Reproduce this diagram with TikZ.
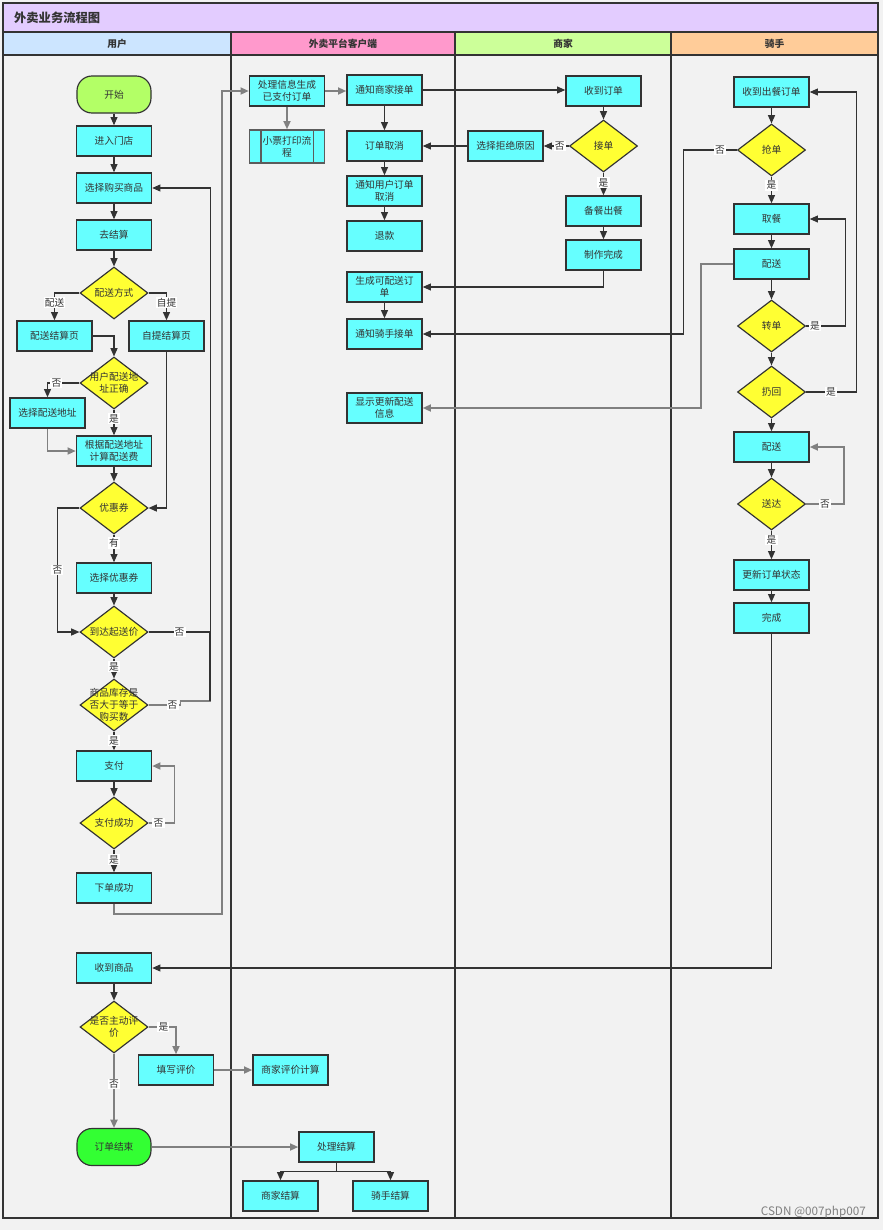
\documentclass[tikz,border=0pt]{standalone}
\usepackage{fontspec}
\setmainfont{Noto Sans CJK SC}
\usepackage{tikz}
\usetikzlibrary{shapes.geometric,arrows.meta}
\definecolor{pagegray}{HTML}{F2F2F2}
\definecolor{linedark}{HTML}{333333}
\definecolor{linegray}{HTML}{808080}
\definecolor{titlepurple}{HTML}{E3CCFF}
\definecolor{userblue}{HTML}{CCE5FF}
\definecolor{platpink}{HTML}{FF99CC}
\definecolor{shopgreen}{HTML}{CCFF99}
\definecolor{rideorange}{HTML}{FFCC99}
\definecolor{proccyan}{HTML}{66FFFF}
\definecolor{decyellow}{HTML}{FFFF33}
\definecolor{startgreen}{HTML}{B3FF66}
\definecolor{endgreen}{HTML}{33FF33}
\newcommand{\zhsize}{\fontsize{8.3}{10}\selectfont}

\tikzset{
  proc/.style={draw=linedark, line width=1.3pt, fill=proccyan, minimum width=2.25cm,
    minimum height=0.9cm, inner sep=1pt, align=center, text=linedark, font=\zhsize},
  term/.style={proc, rounded corners=0.45cm, minimum width=2.22cm, minimum height=1.11cm, line width=1pt},
  dec/.style={diamond, draw=linedark, line width=1pt, fill=decyellow, minimum width=2.04cm,
    minimum height=1.56cm, inner sep=-8pt, align=center, text=linedark, font=\zhsize},
  flow/.style={draw=linedark, line width=0.9pt, -{Triangle[length=7pt,width=6pt]}},
  flowg/.style={flow, draw=linegray, line width=1.4pt},
  lbl/.style={fill=white, inner sep=1pt, text=linedark, font=\zhsize},
  lane/.style={font=\zhsize\bfseries, text=linedark},
}

\begin{document}
\begin{tikzpicture}[x=0.03cm,y=-0.03cm]
    \useasboundingbox[fill=pagegray] (0,0) rectangle (883,1230);

    % Frame and lanes
    \fill[titlepurple] (3,3) rectangle (878,32);
    \fill[userblue] (3,32) rectangle (231,55);
    \fill[platpink] (231,32) rectangle (455,55);
    \fill[shopgreen] (455,32) rectangle (671,55);
    \fill[rideorange] (671,32) rectangle (878,55);
    \draw[linedark,line width=1.4pt] (3,32) -- (878,32);
    \draw[linedark,line width=0.9pt] (3,55) -- (878,55);
    \draw[linedark,line width=1.7pt] (231,32) -- (231,1218);
    \draw[linedark,line width=0.9pt] (455,32) -- (455,1218);
    \draw[linedark,line width=0.9pt] (671,32) -- (671,1218);
    \draw[linedark,line width=1.7pt] (3,3) rectangle (878,1218);

    \node[lane, anchor=west, font=\fontsize{10.5}{12}\selectfont\bfseries] (title) at (10,18) {外卖业务流程图};
    \node[lane] (hduser) at (117,44) {用户};
    \node[lane] (hdplat) at (343,44) {外卖平台客户端};
    \node[lane] (hdshop) at (563,44) {商家};
    \node[lane] (hdride) at (774.5,44) {骑手};

    % User
    \node[term, fill=startgreen] (start) at (114,94.5) {开始};
    \node[proc] (enter) at (114,141) {进入门店};
    \node[proc] (pick) at (114,188) {选择购买商品};
    \node[proc] (checkout) at (114,235) {去结算};
    \node[dec] (dmode) at (114,293) {配送方式};
    \node[proc] (dpage) at (54.5,336) {配送结算页};
    \node[proc] (spage) at (166.5,336) {自提结算页};
    \node[dec] (daddr) at (114,383) {用户配送地\\址正确};
    \node[proc] (seladdr) at (47.5,413) {选择配送地址};
    \node[proc] (fee) at (114,451) {根据配送地址\\计算配送费};
    \node[dec] (dcoupon) at (114,508) {优惠券};
    \node[proc] (selcoupon) at (114,578) {选择优惠券};
    \node[dec] (dmin) at (114,632) {到达起送价};
    \node[dec] (dstock) at (114,705) {商品库存是\\否大于等于\\购买数};
    \node[proc] (pay) at (114,766) {支付};
    \node[dec] (dpaid) at (114,823) {支付成功};
    \node[proc] (placed) at (114,888) {下单成功};
    \node[proc] (recv) at (114,968) {收到商品};
    \node[dec] (drate) at (114,1027) {是否主动评\\价};
    \node[proc] (rate) at (176,1070) {填写评价};
    \node[term, fill=endgreen] (finish) at (114,1147) {订单结束};

    % Platform
    \node[proc] (gen) at (287,91) {处理信息生成\\已支付订单};
    \node[proc, minimum height=0.99cm, draw=linedark!80] (ticket) at (287,146.5) {小票打印流\\程};
    \draw[linedark!80,line width=1.3pt] ([xshift=0.36cm]ticket.north west) -- ([xshift=0.36cm]ticket.south west);
    \draw[linedark!80,line width=1.3pt] ([xshift=-0.36cm]ticket.north east) -- ([xshift=-0.36cm]ticket.south east);
    \node[proc] (notifym) at (384.5,90) {通知商家接单};
    \node[proc] (cancel) at (384.5,146) {订单取消};
    \node[proc] (notifyu) at (384.5,191) {通知用户订单\\取消};
    \node[proc] (refund) at (384.5,236) {退款};
    \node[proc] (deliv) at (384.5,287) {生成可配送订\\单};
    \node[proc] (notifyr) at (384.5,334) {通知骑手接单};
    \node[proc] (showinfo) at (384.5,408) {显示更新配送\\信息};
    \node[proc] (mscore) at (290.5,1070) {商家评价计算};
    \node[proc] (settle) at (336.5,1147) {处理结算};
    \node[proc] (msettle) at (280.5,1196) {商家结算};
    \node[proc] (rsettle) at (390.5,1196) {骑手结算};

    % Merchant
    \node[proc] (mrecv) at (603.5,91) {收到订单};
    \node[dec] (daccept) at (603.5,146) {接单};
    \node[proc] (reason) at (505.5,146) {选择拒绝原因};
    \node[proc] (cook) at (603.5,211) {备餐出餐};
    \node[proc] (done) at (603.5,255) {制作完成};

    % Rider
    \node[proc] (rrecv) at (771.5,92) {收到出餐订单};
    \node[dec] (dgrab) at (771.5,150) {抢单};
    \node[proc] (pickup) at (771.5,219) {取餐};
    \node[proc] (send1) at (771.5,264) {配送};
    \node[dec] (dtrans) at (771.5,326) {转单};
    \node[dec] (dback) at (771.5,392) {扔回};
    \node[proc] (send2) at (771.5,447) {配送};
    \node[dec] (darrive) at (771.5,504) {送达};
    \node[proc] (update) at (771.5,575) {更新订单状态};
    \node[proc] (over) at (771.5,618) {完成};

    \node[text=linegray, anchor=east, font=\fontsize{10}{12}\selectfont] (mark) at (870,1212) {CSDN @007php007};

    % User flow
    \draw[flow] (start) -- (enter);
    \draw[flow] (enter) -- (pick);
    \draw[flow] (pick) -- (checkout);
    \draw[flow] (checkout) -- (dmode);
    \draw[flow] (dmode.west) -| node[lbl,pos=0.68] {配送} (dpage.north);
    \draw[flow] (dmode.east) -| node[lbl,pos=0.68] {自提} (spage.north);
    \draw[flow] (dpage.east) -| (daddr.north);
    \draw[flow] (daddr.west) -| node[lbl,pos=0.36] {否} (seladdr.north);
    \draw[flow] (daddr.south) -- node[lbl,pos=0.35] {是} (fee.north);
    \draw[flowg] (seladdr.south) |- (fee.west);
    \draw[flow] (fee) -- (dcoupon);
    \draw[flow] (spage.south) |- (dcoupon.east);
    \draw[flow] (dcoupon.south) -- node[lbl,pos=0.3] {有} (selcoupon.north);
    \draw[flow] (dcoupon.west) -- ++(-22,0) |- node[lbl,pos=0.25] {否} (dmin.west);
    \draw[flow] (selcoupon) -- (dmin);
    \draw[flow] (dmin.south) -- node[lbl,pos=0.4] {是} (dstock.north);
    \draw[flow] (dmin.east) -- node[lbl] {否} ++(62,0) |- (pick.east);
    \draw[linegray,line width=1.4pt] (dstock.east) -- node[lbl,pos=0.75] {否} ++(32,0) -- ++(0,-4) -- ++(30,0);
    \draw[linedark,line width=0.9pt] (210,701) -- (210,632);
    \draw[flow] (dstock.south) -- node[lbl,pos=0.5] {是} (pay.north);
    \draw[flow] (pay) -- (dpaid);
    \draw[flowg] (dpaid.east) -- node[lbl,pos=0.38] {否} ++(26,0) |- (pay.east);
    \draw[flow] (dpaid.south) -- node[lbl,pos=0.45] {是} (placed.north);
    \draw[flowg] (placed.south) -- ++(0,10) -- ++(108,0) |- (gen.west);
    \draw[flow] (recv) -- (drate);
    \draw[flowg] (drate.east) -| node[lbl,pos=0.27] {是} (rate.north);
    \draw[flowg] (drate.south) -- node[lbl,pos=0.41] {否} (finish.north);
    \draw[flowg] (rate) -- (mscore);
    \draw[flowg] (finish) -- (settle);

    % Platform flow
    \draw[flowg] (gen) -- (gen -| notifym.west);
    \draw[flowg] (gen) -- (ticket);
    \draw[flow] (notifym.east) -- (notifym.east -| mrecv.west);
    \draw[flow] (notifym) -- (cancel);
    \draw[flow] (cancel) -- (notifyu);
    \draw[flow] (notifyu) -- (refund);
    \draw[flow] (deliv) -- (notifyr);
    \draw[flow] (settle.south) -- ++(0,9) -| (msettle.north);
    \draw[flow] (settle.south) -- ++(0,9) -| (rsettle.north);

    % Merchant flow
    \draw[flow] (mrecv) -- (daccept);
    \draw[flow] (daccept.west) -- node[lbl,pos=0.37] {否} (reason.east);
    \draw[flow] (reason) -- (cancel);
    \draw[flow] (daccept.south) -- node[lbl,pos=0.45] {是} (cook.north);
    \draw[flow] (cook) -- (done);
    \draw[flow] (done.south) |- (deliv.east);

    % Rider flow
    \draw[flow] (rrecv) -- (dgrab);
    \draw[flow] (dgrab.west) -- node[lbl,pos=0.32] {否} ++(-53,0) |- (notifyr.east);
    \draw[flow] (dgrab.south) -- node[lbl,pos=0.33] {是} (pickup.north);
    \draw[flow] (pickup) -- (send1);
    \draw[flowg] (send1.west) -- ++(-32,0) |- (showinfo.east);
    \draw[flow] (send1) -- (dtrans);
    \draw[flow] (dtrans.east) -- node[lbl,pos=0.23] {是} ++(39,0) |- (pickup.east);
    \draw[flow] (dtrans) -- (dback);
    \draw[flow] (dback.east) -- node[lbl,pos=0.5] {是} ++(50,0) |- (rrecv.east);
    \draw[flow] (dback) -- (send2);
    \draw[flow] (send2) -- (darrive);
    \draw[flowg] (darrive.east) -- node[lbl,pos=0.5] {否} ++(38,0) |- (send2.east);
    \draw[flow] (darrive.south) -- node[lbl,pos=0.33] {是} (update.north);
    \draw[flow] (update) -- (over);
    \draw[flow] (over.south) |- (recv.east);
\end{tikzpicture}
\end{document}
